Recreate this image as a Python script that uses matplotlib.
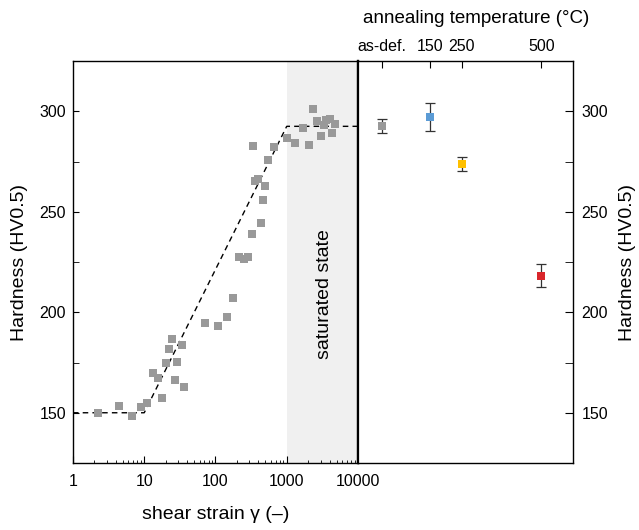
import matplotlib
matplotlib.use("Agg")
import matplotlib.pyplot as plt
from matplotlib.ticker import MultipleLocator, LogLocator, NullFormatter

plt.rcParams['font.family'] = ['Liberation Sans', 'DejaVu Sans']

# hardness vs shear strain (HPT)
strain = [2.25, 4.4, 6.7, 9.0, 11.1, 13.3, 15.7, 18.0, 20.1, 22.4, 24.9, 26.7, 28.8,
          33.8, 36.0, 71, 107, 143, 178, 216, 248, 283, 326, 331, 362, 391, 435,
          466, 501, 540, 655, 1000, 1325, 1680, 2025, 2322, 2680, 3000, 3315, 3580,
          3990, 4350, 4690]
hardness = [150.0, 153.6, 148.4, 152.8, 155.1, 169.6, 167.1, 157.1, 174.6, 181.6, 186.6,
            166.3, 175.1, 183.5, 162.7, 194.5, 193.2, 197.8, 207.1, 227.7, 226.7, 227.4,
            239.0, 282.9, 265.1, 266.3, 244.4, 255.6, 263.0, 275.5, 282.0, 286.7, 284.2,
            291.7, 283.3, 301.2, 295.0, 287.5, 293.4, 295.4, 295.9, 289.2, 293.6]

# guide line
fit_strain = [1, 10, 1000, 10000]
fit_hardness = [150, 150, 292.5, 292.5]

# annealing
temps = [0, 150, 250, 500]
temp_labels = ['as-def.', '150', '250', '500']
ann_hardness = [292.7, 297.0, 273.8, 218.2]
ann_err = [3.3, 7.0, 3.5, 5.8]
ann_colors = ['#999999', '#5b9bd5', '#ffc000', '#d9262b']

fig = plt.figure(figsize=(6.39, 5.30), dpi=100)
ax1 = fig.add_axes([0.1142, 0.1264, 0.446, 0.7585])
ax2 = fig.add_axes([0.5603, 0.1264, 0.3365, 0.7585])

# left panel
ax1.axvspan(1000, 10000, color='#f0f0f0', zorder=0, lw=0)
ax1.plot(fit_strain, fit_hardness, ls=(0, (4, 3)), color='black', lw=1, zorder=2)
ax1.plot(strain, hardness, 's', color='#999999', ms=5.4, mew=0, zorder=3)
ax1.set_xscale('log')
ax1.set_xlim(1, 10000)
ax1.set_ylim(125, 325)
ax1.xaxis.set_minor_locator(LogLocator(base=10, subs=range(2, 10), numticks=10))
ax1.xaxis.set_minor_formatter(NullFormatter())
ax1.set_xticks([1, 10, 100, 1000, 10000])
ax1.set_xticklabels(['1', '10', '100', '1000', '10000'])
ax1.yaxis.set_major_locator(MultipleLocator(50))
ax1.yaxis.set_minor_locator(MultipleLocator(25))
ax1.tick_params(axis='both', which='both', direction='in', labelsize=11.5,
                top=False, right=False)
ax1.tick_params(axis='x', which='major', length=5, pad=8)
ax1.tick_params(axis='x', which='minor', length=2.5)
ax1.tick_params(axis='y', which='both', length=4.5, pad=5)
ax1.set_xlabel('shear strain γ (–)', fontsize=14, labelpad=12)
ax1.set_ylabel('Hardness (HV0.5)', fontsize=14, labelpad=8)
ax1.text(3400, 209, 'saturated state', rotation=90, ha='center', va='center', fontsize=14)

# right panel
for t, h, e, c in zip(temps, ann_hardness, ann_err, ann_colors):
    ax2.errorbar(t, h, yerr=e, fmt='none', ecolor='#333333', elinewidth=0.9,
                 capsize=3.5, capthick=0.9, zorder=2)
    ax2.plot(t, h, 's', color=c, ms=5.4, mew=0, zorder=3)
ax2.set_xlim(-75, 600)
ax2.set_ylim(125, 325)
ax2.set_xticks(temps)
ax2.set_xticklabels(temp_labels)
ax2.xaxis.tick_top()
ax2.xaxis.set_label_position('top')
ax2.yaxis.tick_right()
ax2.yaxis.set_label_position('right')
ax2.yaxis.set_major_locator(MultipleLocator(50))
ax2.yaxis.set_minor_locator(MultipleLocator(25))
ax2.tick_params(axis='both', which='both', direction='in', labelsize=11.5,
                bottom=False, left=False)
ax2.tick_params(axis='x', length=5, pad=5)
ax2.tick_params(axis='y', which='both', length=5.5, pad=6)
ax2.set_xlabel('annealing temperature (°C)', fontsize=13.5)
ax2.xaxis.set_label_coords(0.55, 1.095)
ax2.set_ylabel('Hardness (HV0.5)', fontsize=14, labelpad=8)

for ax in (ax1, ax2):
    for s in ax.spines.values():
        s.set_linewidth(1.0)
ax1.spines['right'].set_linewidth(1.6)
ax2.spines['left'].set_linewidth(1.6)

fig.savefig('out.png', dpi=100)
